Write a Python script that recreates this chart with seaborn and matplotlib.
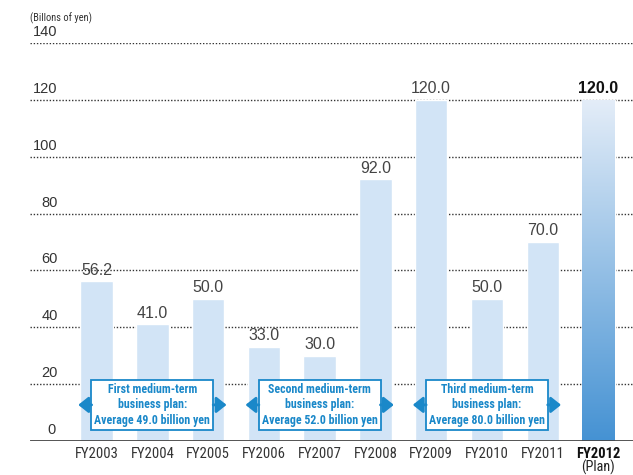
import numpy as np
import pandas as pd
import matplotlib
matplotlib.use("Agg")
import matplotlib.pyplot as plt
import seaborn as sns
from matplotlib.colors import LinearSegmentedColormap
from matplotlib.transforms import blended_transform_factory
from matplotlib import font_manager as fm

categories = ["FY2003", "FY2004", "FY2005", "FY2006", "FY2007", "FY2008",
              "FY2009", "FY2010", "FY2011", "FY2012"]
values = [56.2, 41.0, 50.0, 33.0, 30.0, 92.0, 120.0, 50.0, 70.0, 120.0]
yticks = [0, 20, 40, 60, 80, 100, 120, 140]
plans = ["First medium-term\nbusiness plan:\nAverage 49.0 billion yen",
         "Second medium-term\nbusiness plan:\nAverage 52.0 billion yen",
         "Third medium-term\nbusiness plan:\nAverage 80.0 billion yen"]
plan_spans = [(0, 2), (3, 5), (6, 8)]

sns.set_theme(style="white")
plt.rcParams["font.family"] = ["Liberation Sans", "DejaVu Sans"]

# find a condensed face if one is installed
fonts = fm.fontManager.ttflist
names = {f.name for f in fonts}
cond = None
for nm in ["Liberation Sans Narrow", "Roboto Condensed", "Open Sans Condensed",
           "DejaVu Sans Condensed"]:
    if nm in names:
        cond = dict(family=nm)
        break
if cond is None:
    for f in fonts:
        if f.name == "DejaVu Sans" and str(f.stretch) in ("condensed", "semi-condensed"):
            cond = dict(family="DejaVu Sans", fontstretch="condensed")
            break
if cond is None:
    cond = dict(family="Liberation Sans")
    small = True
else:
    small = False

fig = plt.figure(figsize=(6.33, 4.75), dpi=100)
ax = fig.add_axes([0.047, 0.0716, 0.953, 0.838])

df = pd.DataFrame({"cat": categories, "val": values})
light = "#d2e4f6"
sns.barplot(data=df, x="cat", y="val", color=light, width=0.58, ax=ax,
            saturation=1, zorder=2)

# gradient on last bar
last = ax.patches[-1]
x0, y0 = last.get_x(), last.get_y()
w, h = last.get_width(), last.get_height()
last.set_facecolor("none")
cmap = LinearSegmentedColormap.from_list("g", ["#4592d3", "#e4edf8"])
grad = np.linspace(0, 1, 256).reshape(-1, 1)
im = ax.imshow(grad, cmap=cmap, extent=[x0, x0 + w, y0, y0 + h],
               origin="lower", aspect="auto", zorder=2.5)
im.set_clip_path(last)

ax.set_xlim(-1.2, 9.62)
ax.set_ylim(0, 140)
ax.set_aspect("auto")
for s in ax.spines.values():
    s.set_visible(False)
ax.set_yticks([])
ax.set_xlabel("")
ax.set_ylabel("")

# gridlines
for yv in yticks[1:]:
    ax.axhline(yv, color="#333333", lw=1.0, ls=(0, (1.0, 1.3)), zorder=1)
ax.axhline(0, color="#444444", lw=2.0, zorder=4)

trans = blended_transform_factory(ax.transAxes, ax.transData)
for yv in yticks:
    ax.text(0.046 if yv > 0 else 0.043, yv + 1.4, f"{yv}", transform=trans,
            ha="right", va="bottom", fontsize=10.5, color="#333333")

fig.text(30 / 633, 1 - 18 / 475, "(Billons of yen)", fontsize=7 if small else 7.5,
         color="#333333", va="center", ha="left", **cond)

# value labels
for i, v in enumerate(values):
    bold = i == len(values) - 1
    ax.text(i, v + 1.3, f"{v:.1f}", ha="center", va="bottom",
            fontsize=11.5, color="#111111" if bold else "#444444",
            fontweight="bold" if bold else "normal", zorder=5)

# x tick labels
ax.set_xticks(range(len(categories)))
ax.set_xticklabels(categories, fontsize=9.3 if small else 10.5, color="#333333",
                   **cond)
ax.tick_params(axis="x", length=0, pad=4)
lab = ax.get_xticklabels()[-1]
lab.set_fontweight("bold")
lab.set_color("#111111")
ax.text(len(categories) - 1, -9.4, "(Plan)", ha="center", va="center",
        fontsize=9.3 if small else 10.3, color="#222222", **cond)

# plan annotation boxes
blue = "#1a88c9"
ycen = 12.7
for (a, b), txt in zip(plan_spans, plans):
    cx = (a + b) / 2
    ax.text(cx, ycen, txt, ha="center", va="center",
            fontsize=6.9 if small else 8.6,
            fontweight="bold", color=blue, linespacing=1.25 if not small else 1.45,
            zorder=6, **cond,
            bbox=dict(boxstyle="square,pad=0.25", fc="white", ec=blue, lw=1.3))
    for xa, xb in [(a - 0.33, a - 0.09), (b + 0.33, b + 0.09)]:
        ax.annotate("", xy=(xa, ycen), xytext=(xb, ycen),
                    arrowprops=dict(arrowstyle="-|>,head_length=0.5,head_width=0.4",
                                    color=blue, lw=2.0, shrinkA=0, shrinkB=0),
                    zorder=6)

fig.savefig("out.png", dpi=100)
